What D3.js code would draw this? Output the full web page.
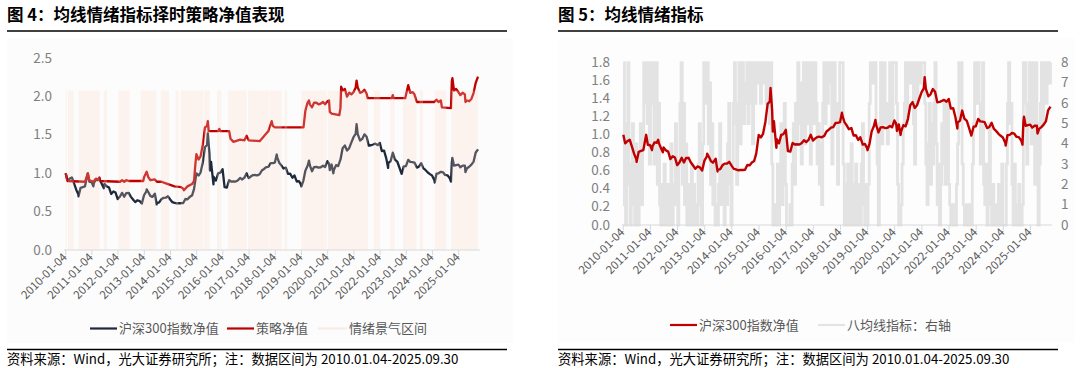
<!DOCTYPE html>
<html><head><meta charset="utf-8">
<script src="https://cdn.jsdelivr.net/npm/d3@7/dist/d3.min.js"></script>
<style>
body{margin:0;background:#fff;}
svg text{font-family:"Noto Sans CJK SC","Noto Sans",sans-serif;}
</style></head><body>
<svg id="c" width="1080" height="368"></svg>
<script>
// ---------- DATA ----------
const xTickLabels = ["2010-01-04","2011-01-04","2012-01-04","2013-01-04","2014-01-04","2015-01-04","2016-01-04","2017-01-04","2018-01-04","2019-01-04","2020-01-04","2021-01-04","2022-01-04","2023-01-04","2024-01-04","2025-01-04"];
const leftYTicks = [0,0.5,1.0,1.5,2.0,2.5];
const rightYTicksL = [0,0.2,0.4,0.6,0.8,1.0,1.2,1.4,1.6,1.8];
const rightYTicksR = [0,1,2,3,4,5,6,7,8];

const idxDates = ["2010-01-04","2010-01-29","2010-02-26","2010-03-31","2010-04-30","2010-05-31","2010-06-30","2010-07-02","2010-07-30","2010-08-31","2010-09-30","2010-10-29","2010-11-08","2010-11-30","2010-12-31","2011-01-25","2011-01-31","2011-02-28","2011-03-31","2011-04-18","2011-04-29","2011-05-31","2011-06-20","2011-06-30","2011-07-29","2011-08-31","2011-09-30","2011-10-31","2011-11-30","2011-12-30","2012-01-31","2012-02-29","2012-03-30","2012-04-27","2012-05-31","2012-06-29","2012-07-31","2012-08-31","2012-09-28","2012-10-31","2012-11-30","2012-12-31","2013-01-31","2013-02-06","2013-02-28","2013-03-29","2013-04-26","2013-05-31","2013-06-25","2013-06-28","2013-07-31","2013-08-30","2013-09-30","2013-10-31","2013-11-29","2013-12-31","2014-01-30","2014-02-28","2014-03-31","2014-04-30","2014-05-30","2014-06-30","2014-07-31","2014-08-29","2014-09-30","2014-10-31","2014-11-28","2014-12-31","2015-01-30","2015-02-27","2015-03-31","2015-04-30","2015-05-29","2015-06-08","2015-06-30","2015-07-08","2015-07-24","2015-07-31","2015-08-26","2015-08-31","2015-09-30","2015-10-30","2015-11-30","2015-12-31","2016-01-28","2016-02-29","2016-03-31","2016-04-29","2016-05-31","2016-06-30","2016-07-29","2016-08-31","2016-09-30","2016-10-31","2016-11-30","2016-12-30","2017-01-26","2017-02-28","2017-03-31","2017-04-28","2017-05-31","2017-06-30","2017-07-31","2017-08-31","2017-09-29","2017-10-31","2017-11-30","2017-12-29","2018-01-24","2018-01-31","2018-02-28","2018-03-30","2018-04-27","2018-05-31","2018-06-29","2018-07-31","2018-08-31","2018-09-28","2018-10-31","2018-11-30","2018-12-28","2019-01-03","2019-01-31","2019-02-28","2019-03-29","2019-04-19","2019-04-30","2019-05-31","2019-06-28","2019-07-31","2019-08-30","2019-09-30","2019-10-31","2019-11-29","2019-12-31","2020-01-23","2020-02-03","2020-02-28","2020-03-23","2020-03-31","2020-04-30","2020-05-29","2020-06-30","2020-07-31","2020-08-31","2020-09-30","2020-10-30","2020-11-30","2020-12-31","2021-01-29","2021-02-10","2021-02-26","2021-03-31","2021-04-30","2021-05-31","2021-06-30","2021-07-30","2021-08-31","2021-09-30","2021-10-29","2021-11-30","2021-12-31","2022-01-28","2022-02-28","2022-03-31","2022-04-26","2022-04-29","2022-05-31","2022-06-30","2022-07-29","2022-08-31","2022-09-30","2022-10-31","2022-11-30","2022-12-30","2023-01-31","2023-02-28","2023-03-31","2023-04-28","2023-05-31","2023-06-30","2023-07-31","2023-08-31","2023-09-28","2023-10-31","2023-11-30","2023-12-29","2024-01-31","2024-02-05","2024-02-29","2024-03-29","2024-04-30","2024-05-31","2024-06-28","2024-07-31","2024-08-30","2024-09-18","2024-09-30","2024-10-08","2024-10-31","2024-11-29","2024-12-31","2025-01-27","2025-02-28","2025-03-31","2025-04-08","2025-04-30","2025-05-30","2025-06-30","2025-07-31","2025-08-29","2025-09-30"];
const idxValues = [1.000,0.906,0.928,0.946,0.868,0.786,0.725,0.700,0.811,0.821,0.830,0.958,1.000,0.890,0.885,0.830,0.870,0.916,0.912,0.945,0.905,0.843,0.806,0.861,0.830,0.814,0.731,0.763,0.749,0.664,0.697,0.745,0.694,0.743,0.745,0.696,0.660,0.624,0.649,0.638,0.605,0.714,0.760,0.790,0.756,0.706,0.692,0.735,0.594,0.612,0.620,0.662,0.681,0.682,0.700,0.659,0.623,0.616,0.607,0.610,0.610,0.612,0.665,0.661,0.693,0.710,0.794,0.999,0.971,1.010,1.146,1.343,1.369,1.520,1.265,1.036,1.150,1.080,0.856,0.952,0.906,1.000,1.009,1.055,0.820,0.814,0.910,0.893,0.896,0.892,0.906,0.940,0.920,0.944,1.000,0.937,0.958,0.977,0.978,0.973,0.988,1.037,1.057,1.081,1.085,1.133,1.133,1.140,1.245,1.209,1.138,1.103,1.063,1.075,0.993,0.995,0.943,0.973,0.892,0.898,0.852,0.830,0.906,1.038,1.095,1.165,1.107,1.027,1.082,1.085,1.075,1.079,1.099,1.083,1.159,1.125,1.043,1.115,0.999,1.043,1.107,1.094,1.178,1.328,1.363,1.298,1.328,1.403,1.474,1.514,1.640,1.510,1.428,1.449,1.508,1.478,1.361,1.366,1.376,1.388,1.367,1.397,1.291,1.296,1.195,1.070,1.136,1.157,1.269,1.180,1.154,1.076,0.992,1.090,1.095,1.176,1.149,1.146,1.140,1.075,1.087,1.133,1.065,1.044,1.011,0.989,0.971,0.910,0.880,0.995,1.000,1.020,1.013,0.979,0.974,0.940,0.891,1.137,1.200,1.100,1.108,1.113,1.080,1.100,1.100,1.015,1.066,1.086,1.113,1.153,1.272,1.313];

const stratDates = ["2010-01-04","2010-01-20","2010-01-29","2010-09-30","2010-10-29","2010-11-08","2010-11-30","2010-12-31","2011-01-25","2011-02-28","2011-03-31","2011-04-18","2011-04-29","2012-01-31","2012-02-29","2012-03-30","2012-04-27","2012-05-31","2012-12-20","2012-12-31","2013-02-06","2013-02-28","2013-03-29","2013-05-31","2013-06-28","2013-08-30","2013-10-31","2013-12-31","2014-02-28","2014-05-30","2014-06-30","2014-07-10","2014-08-29","2014-10-31","2014-11-28","2014-12-15","2014-12-31","2015-01-30","2015-02-27","2015-03-31","2015-04-30","2015-05-29","2015-06-08","2015-06-20","2015-11-01","2015-11-15","2015-11-30","2016-04-01","2016-04-20","2016-05-31","2016-08-31","2016-10-31","2016-11-30","2016-12-30","2017-05-31","2017-06-30","2017-08-31","2017-09-29","2017-10-31","2017-11-15","2017-11-30","2017-12-29","2019-02-01","2019-02-28","2019-03-29","2019-04-19","2019-04-30","2019-05-31","2019-06-28","2019-07-31","2019-08-30","2019-09-30","2019-10-31","2019-11-29","2019-12-31","2020-01-23","2020-02-03","2020-02-28","2020-06-15","2020-06-30","2020-07-10","2020-07-31","2020-08-31","2020-09-30","2020-10-30","2020-11-30","2020-12-31","2021-01-29","2021-02-10","2021-02-26","2021-03-31","2021-04-30","2021-05-31","2021-06-30","2021-07-15","2022-06-15","2022-06-30","2022-07-10","2022-12-20","2023-01-31","2023-02-28","2023-03-31","2023-04-28","2023-05-31","2024-01-31","2024-02-29","2024-03-29","2024-04-30","2024-05-15","2024-09-18","2024-09-30","2024-10-08","2024-10-31","2024-11-29","2024-12-31","2025-01-27","2025-02-28","2025-03-31","2025-04-08","2025-04-30","2025-05-30","2025-06-30","2025-07-31","2025-08-29","2025-09-30"];
const stratValues = [1.00,0.93,0.90,0.89,0.97,1.00,0.91,0.90,0.89,0.93,0.92,0.94,0.90,0.89,0.91,0.89,0.91,0.90,0.90,0.95,1.02,0.95,0.91,0.92,0.89,0.89,0.87,0.85,0.83,0.82,0.80,0.78,0.83,0.86,0.90,1.10,1.25,1.18,1.22,1.38,1.60,1.62,1.68,1.55,1.55,1.58,1.55,1.55,1.45,1.41,1.44,1.43,1.49,1.43,1.42,1.45,1.52,1.55,1.64,1.68,1.62,1.60,1.60,1.82,1.92,1.95,1.90,1.86,1.92,1.92,1.90,1.91,1.93,1.90,1.94,1.95,1.80,1.78,1.76,1.85,2.13,2.08,2.10,2.00,2.05,2.03,2.06,2.12,2.21,2.12,2.05,2.06,2.09,2.04,1.98,1.98,2.02,1.98,1.98,2.15,2.05,2.06,2.03,1.93,1.93,1.96,1.93,1.95,1.86,1.85,2.20,2.24,2.08,2.10,2.06,2.02,2.05,2.03,1.93,1.95,1.94,1.97,2.05,2.18,2.26];

const bandStarts = ["2010-01-04","2010-02-05","2010-07-05","2011-06-18","2012-01-10","2012-11-15","2013-08-20","2014-03-18","2014-05-25","2015-04-15","2015-10-15","2016-03-15","2016-12-20","2017-10-20","2018-05-15","2019-01-01","2020-01-08","2020-07-12","2021-10-08","2022-05-25","2022-11-20","2023-07-08","2024-02-05","2024-09-25"];
const bandEnds   = ["2010-01-18","2010-04-25","2011-04-22","2011-08-02","2012-06-12","2013-06-20","2013-12-15","2014-04-25","2015-04-01","2015-07-05","2015-12-15","2016-11-28","2017-10-12","2018-04-05","2018-06-18","2019-12-20","2020-07-08","2021-07-18","2022-01-01","2022-07-25","2023-05-25","2023-08-25","2024-07-15","2025-09-30"];

const indicatorValues = [
8,1,0,5,8,2,0,3,5,1,0,4,2,0,3,5,1,4,8,6,8,5,8,3,
8,6,8,3,5,8,2,6,1,0,2,0,3,1,0,2,0,1,4,0,2,1,5,2,
0,3,6,8,2,6,1,4,0,2,0,1,3,0,2,0,1,0,3,5,1,0,4,8,
8,6,8,4,7,2,5,1,3,0,1,0,2,5,1,3,2,0,3,1,4,6,2,0,
3,6,8,5,2,6,8,4,6,8,5,7,6,8,5,8,6,8,4,8,6,8,7,8,
8,6,8,7,8,8,6,8,8,5,8,3,0,1,0,0,3,0,2,5,1,4,6,2,
0,0,0,1,0,3,5,2,6,4,8,5,7,3,6,8,4,8,5,6,8,3,6,8,
5,8,6,3,5,2,4,1,6,8,5,8,6,8,7,8,3,6,8,5,6,2,5,8,
8,8,3,0,2,0,3,0,1,4,0,2,0,3,1,0,2,0,3,5,1,0,2,0,
2,6,8,8,7,8,8,5,3,0,5,8,4,5,8,5,6,4,5,8,6,5,8,8,
8,6,2,0,0,1,3,5,6,8,5,8,8,7,8,8,5,3,8,6,8,8,7,8,
8,8,6,3,1,4,6,2,5,3,6,8,4,1,3,0,2,5,3,6,2,4,6,2,
1,0,0,1,0,0,2,4,8,6,8,3,1,0,0,1,0,0,1,0,3,5,8,6,
8,8,6,3,5,8,2,1,3,0,2,5,1,0,2,0,1,0,0,2,0,1,3,0,
0,0,3,6,8,5,6,2,0,3,0,1,0,2,0,0,1,8,8,6,3,5,8,6,
4,8,6,2,8,5,0,3,6,8,5,8,8,6,8,8,7,8];

// ---------- RENDER ----------
const parse = d3.timeParse("%Y-%m-%d");
const d0 = parse("2010-01-04"), d1 = parse("2025-09-30");
const svg = d3.select("#c");
const FONT_GRAY = "#595959", AXIS_GRAY = "#808080", LINE_GRAY = "#d9d9d9";

function header(x0, x1, title){
  svg.append("text").attr("x", x0).attr("y", 21).attr("font-size", 16.5).attr("font-weight", "bold").attr("fill", "#000").text(title);
  svg.append("line").attr("x1", x0).attr("x2", x1).attr("y1", 31).attr("y2", 31).attr("stroke", "#000").attr("stroke-width", 1.3);
  svg.append("line").attr("x1", x0).attr("x2", x1).attr("y1", 349.5).attr("y2", 349.5).attr("stroke", "#000").attr("stroke-width", 1.3);
  svg.append("text").attr("x", x0).attr("y", 364).attr("font-size", 13.3).attr("fill", "#000")
     .text("资料来源：Wind，光大证券研究所；注：数据区间为 2010.01.04-2025.09.30");
}

function xAxis(x, y0, r0, r1){
  const g = svg.append("g");
  g.append("line").attr("x1", r0).attr("x2", r1).attr("y1", y0).attr("y2", y0).attr("stroke", LINE_GRAY).attr("stroke-width", 1);
  xTickLabels.forEach(s => {
    const xx = x(parse(s));
    g.append("line").attr("x1", xx).attr("x2", xx).attr("y1", y0).attr("y2", y0 + 5).attr("stroke", LINE_GRAY);
    g.append("text").attr("transform", `translate(${xx + 2},${y0 + 8}) rotate(-45)`)
      .attr("text-anchor", "end").attr("font-size", 11.5).attr("fill", FONT_GRAY).text(s);
  });
}

// ===== LEFT PANEL =====
header(7, 507, "图 4：均线情绪指标择时策略净值表现");
svg.append("rect").attr("x", 7).attr("y", 38).attr("width", 506).attr("height", 305).attr("fill", "#fcfcfc");
const xL = d3.scaleTime().domain([d0, d1]).range([65.7, 478]);
const yL = d3.scaleLinear().domain([0, 2.5]).range([250, 58.3]);
leftYTicks.forEach(t => {
  svg.append("text").attr("x", 52).attr("y", yL(t) + 4.5).attr("text-anchor", "end")
    .attr("font-size", 13.5).attr("fill", AXIS_GRAY).text(d3.format(".1f")(t));
});
const lineL = d3.line().x(d => xL(d[0])).y(d => yL(d[1]));
const idxSeries = idxDates.map((d, i) => [parse(d), idxValues[i]]);
const stratSeries = stratDates.map((d, i) => [parse(d), stratValues[i]]);
svg.append("path").datum(idxSeries).attr("d", lineL).attr("fill", "none").attr("stroke", "#1e2a3c").attr("stroke-width", 2.3).attr("stroke-linejoin", "round");
svg.append("path").datum(stratSeries).attr("d", lineL).attr("fill", "none").attr("stroke", "#c00000").attr("stroke-width", 2.3).attr("stroke-linejoin", "round");
// sentiment bands overlay (semi-transparent, drawn on top like the original)
bandStarts.forEach((s, i) => {
  const a = xL(parse(s)), b = xL(parse(bandEnds[i]));
  svg.append("rect").attr("x", a).attr("y", yL(2.08)).attr("width", Math.max(0.8, b - a)).attr("height", yL(0) - yL(2.08))
    .attr("fill", "rgb(250,214,200)").attr("fill-opacity", 0.25);
});
xAxis(xL, 250, 64, 480);

// left legend
function legendItem(x, y, color, label, w){
  svg.append("line").attr("x1", x).attr("x2", x + (w || 27)).attr("y1", y).attr("y2", y).attr("stroke", color).attr("stroke-width", 2.2);
  svg.append("text").attr("x", x + (w || 27) + 2).attr("y", y + 4.5).attr("font-size", 13).attr("fill", FONT_GRAY).text(label);
}
legendItem(90, 328.5, "#1e2a3c", "沪深300指数净值");
legendItem(227, 328.5, "#c00000", "策略净值");
legendItem(318, 328.5, "#fbebe6", "情绪景气区间", 29);

// ===== RIGHT PANEL =====
header(558, 1058, "图 5：均线情绪指标");
svg.append("rect").attr("x", 558).attr("y", 38).attr("width", 517).attr("height", 305).attr("fill", "#fdfdfd");
const xR = d3.scaleTime().domain([d0, d1]).range([623.3, 1050.5]);
const yR = d3.scaleLinear().domain([0, 1.8]).range([225, 62.7]);
const yR2 = d3.scaleLinear().domain([0, 8]).range([225, 62.7]);
rightYTicksL.forEach(t => {
  svg.append("text").attr("x", 610).attr("y", yR(t) + 4.5).attr("text-anchor", "end")
    .attr("font-size", 13.5).attr("fill", AXIS_GRAY).text(d3.format(".1f")(t));
});
rightYTicksR.forEach(t => {
  svg.append("text").attr("x", 1061).attr("y", yR2(t) + 4.5).attr("text-anchor", "start")
    .attr("font-size", 13.5).attr("fill", AXIS_GRAY).text(t);
});
const n = indicatorValues.length;
const indSeries = indicatorValues.map((v, i) => [new Date(+d0 + (d1 - d0) * i / (n - 1)), v]);
svg.append("path").datum(indSeries)
  .attr("d", d3.line().x(d => xR(d[0])).y(d => yR2(d[1])).curve(d3.curveStepAfter))
  .attr("fill", "none").attr("stroke", "#e3e3e3").attr("stroke-width", 2.8);
svg.append("path").datum(idxSeries)
  .attr("d", d3.line().x(d => xR(d[0])).y(d => yR(d[1])))
  .attr("fill", "none").attr("stroke", "#c00000").attr("stroke-width", 2.4).attr("stroke-linejoin", "round");
xAxis(xR, 225, 622, 1052);

legendItem(670, 325, "#c00000", "沪深300指数净值");
legendItem(818, 325, "#e3e3e3", "八均线指标：右轴");
</script>
</body></html>
